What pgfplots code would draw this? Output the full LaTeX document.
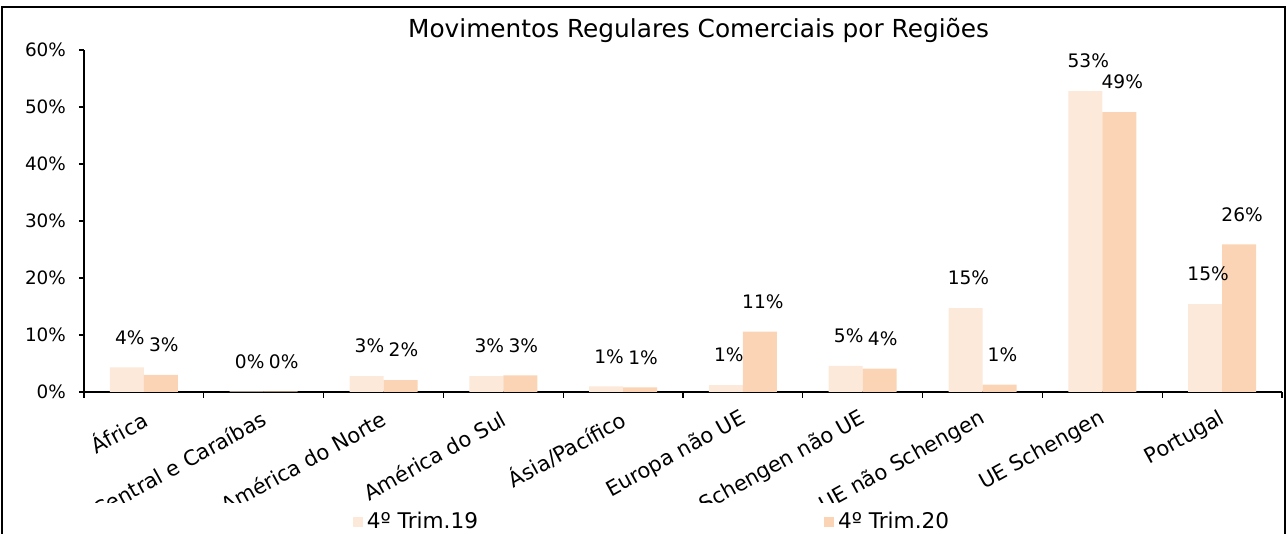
\documentclass[border=0pt]{standalone}
\usepackage{pgfplots}
\pgfplotsset{compat=1.18}
\usepackage{fontspec}
\setmainfont{DejaVu Sans}
\definecolor{lightbar}{RGB}{252,233,218}
\definecolor{darkbar}{RGB}{250,212,180}
\begin{document}
\begin{tikzpicture}
\useasboundingbox (0pt,0pt) rectangle (643.5pt,267pt);
\draw[line width=1pt] (1pt,0pt) -- (1pt,263.3pt) -- (642.3pt,263.3pt) -- (642.3pt,0pt);
\begin{scope}
\clip (0pt,15.5pt) rectangle (643.5pt,267pt);
\begin{axis}[
  at={(42pt,71pt)}, anchor=south west,
  scale only axis, width=599pt, height=171pt,
  ymin=0, ymax=60, xmin=-0.5, xmax=9.5,
  ybar=0pt, bar width=17pt,
  axis x line*=bottom, axis y line*=left,
  axis line style={black, line width=0.6pt, -},
  xtick={0,...,9},
  xticklabels={África, América Central e Caraíbas, América do Norte, América do Sul, Ásia/Pacífico, Europa não UE, Schengen não UE, UE não Schengen, UE Schengen, Portugal},
  major x tick style={draw=none},
  minor xtick={-0.5,0.5,...,9.5},
  ytick={0,10,...,60},
  yticklabels={0\%,10\%,20\%,30\%,40\%,50\%,60\%},
  tick align=outside, tick style={black, line width=0.6pt},
  major tick length=2.5pt, minor tick length=3pt,
  ticklabel style={font=\fontsize{9.2}{10}\selectfont},
  xticklabel style={rotate=29, anchor=east, font=\fontsize{10.5}{12}\selectfont, xshift=-1pt, yshift=-9pt},
  yticklabel style={xshift=-3pt},
  title={Movimentos Regulares Comerciais por Regiões},
  title style={at={(0.513,1.023)}, anchor=center, font=\fontsize{12.4}{14}\selectfont, inner sep=0pt},
  clip=false,
  /pgf/number format/assume math mode=true,
  nodes near coords={\pgfmathprintnumber[fixed,precision=0]{\pgfplotspointmeta}\%},
  every node near coord/.append style={font=\fontsize{9.3}{10}\selectfont, anchor=center, yshift=15pt, xshift=1.5pt, inner sep=0pt, black},
]
\addplot[fill=lightbar, draw=none] coordinates {(0,4.3) (1,0.1) (2,2.8) (3,2.8) (4,1.0) (5,1.2) (6,4.6) (7,14.7) (8,52.8) (9,15.4)};
\addplot[fill=darkbar, draw=none] coordinates {(0,3.0) (1,0.1) (2,2.1) (3,2.9) (4,0.8) (5,10.6) (6,4.1) (7,1.3) (8,49.1) (9,25.9)};
\end{axis}
\end{scope}
\begin{axis}[
  at={(42pt,71pt)}, anchor=south west,
  scale only axis, width=599pt, height=171pt,
  ymin=0, ymax=60, xmin=-0.5, xmax=9.5,
  hide axis,
  legend columns=2,
  legend style={draw=none, fill=none, at={(0.475,-0.38)}, anchor=center,
    font=\fontsize{10.8}{12}\selectfont,
    /tikz/every even column/.append style={column sep=171pt}},
  legend image code/.code={\fill[#1] (0pt,-2.5pt) rectangle (5pt,2.5pt);},
]
\addlegendimage{fill=lightbar, draw=none}
\addlegendentry{4º Trim.19}
\addlegendimage{fill=darkbar, draw=none}
\addlegendentry{4º Trim.20}
\end{axis}
\end{tikzpicture}
\end{document}
